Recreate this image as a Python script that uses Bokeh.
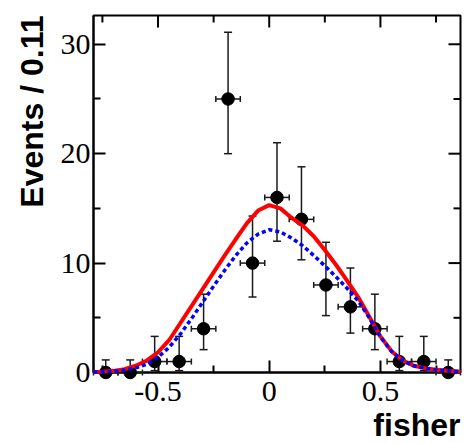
import numpy as np
from bokeh.plotting import figure
from bokeh.models import (Range1d, FixedTicker, LinearAxis, Title, ColumnDataSource)
from bokeh.embed import file_html
from bokeh.resources import INLINE

# ---- data ----
bin_centers = [-0.735, -0.625, -0.515, -0.405, -0.295, -0.185, -0.075, 0.035,
               0.145, 0.255, 0.365, 0.475, 0.585, 0.695, 0.805]
events = [0, 0, 1, 1, 4, 25, 10, 16, 14, 8, 6, 4, 1, 1, 0]
err_lower = [0, 0, 0.17, 0.17, 2.09, 20.0, 6.9, 12.0, 10.3, 5.2, 3.6, 2.09, 0.17, 0.17, 0]
err_upper = [1.15, 1.15, 3.3, 3.3, 7.16, 31.1, 14.3, 21.0, 18.8, 11.9, 9.55, 7.16, 3.3, 3.3, 1.15]
bin_half_width = 0.055

curve_x = [-0.79, -0.75, -0.70, -0.65, -0.60, -0.55, -0.50, -0.45, -0.40, -0.35,
           -0.30, -0.25, -0.20, -0.15, -0.10, -0.05, 0.00, 0.05, 0.10, 0.15,
           0.20, 0.25, 0.30, 0.35, 0.40, 0.45, 0.50, 0.55, 0.60, 0.65,
           0.70, 0.75, 0.80, 0.86]
total_fit = [0.05, 0.08, 0.15, 0.30, 0.62, 1.10, 1.85, 2.95, 4.5, 6.05,
             7.6, 9.15, 10.7, 12.2, 13.65, 14.8, 15.3, 15.0, 14.15, 13.45,
             12.45, 11.2, 9.85, 8.4, 6.9, 5.1, 3.3, 1.95, 1.1, 0.62,
             0.40, 0.25, 0.15, 0.08]
component = [0.04, 0.06, 0.12, 0.22, 0.42, 0.75, 1.4, 2.3, 3.5, 4.9,
             6.4, 7.9, 9.35, 10.7, 11.85, 12.65, 13.05, 12.85, 12.3, 11.6,
             10.7, 9.75, 8.75, 7.7, 6.55, 5.0, 3.25, 1.93, 1.08, 0.61,
             0.39, 0.24, 0.15, 0.08]

x_ticks = [-0.5, 0, 0.5]
x_tick_labels = ["-0.5", "0", "0.5"]
x_minor = [-0.75, -0.25, 0.25, 0.75]
y_ticks = [0, 10, 20, 30]
y_tick_labels = ["0", "10", "20", "30"]
y_minor = [5, 15, 25]

x_title = "fisher"
y_title = "Events / 0.11"

# ---- figure ----
W, H = 464, 443
L, R, T, B = 93, 4, 15, 71
X0, X1, Y0, Y1 = -0.79, 0.86, 0.0, 32.63
p = figure(width=W, height=H, output_backend="svg", toolbar_location=None,
           x_range=Range1d(X0, X1), y_range=Range1d(Y0, Y1),
           x_axis_type=None, y_axis_type=None,
           min_border_left=L, min_border_right=R, min_border_top=T, min_border_bottom=B)
p.grid.visible = False
p.background_fill_color = "white"
p.border_fill_color = "white"
p.outline_line_color = "black"
p.outline_line_width = 2

serif = "Liberation Serif"

def style_axis(ax):
    ax.axis_line_color = "black"
    ax.axis_line_width = 2
    ax.major_tick_in = 12
    ax.major_tick_out = 0
    ax.minor_tick_in = 7
    ax.minor_tick_out = 0
    ax.major_tick_line_width = 2
    ax.minor_tick_line_width = 2
    ax.major_tick_line_color = "black"
    ax.minor_tick_line_color = "black"
    ax.major_label_text_font = serif
    ax.major_label_text_font_size = "30px"
    ax.major_label_text_color = "black"

xb = LinearAxis(ticker=FixedTicker(ticks=x_ticks, minor_ticks=x_minor),
                major_label_overrides=dict(zip(x_ticks, x_tick_labels)))
style_axis(xb)
xb.major_label_standoff = 9
p.add_layout(xb, "below")

yl = LinearAxis(ticker=FixedTicker(ticks=y_ticks, minor_ticks=y_minor),
                major_label_overrides=dict(zip(y_ticks, y_tick_labels)))
style_axis(yl)
yl.major_label_standoff = 3
p.add_layout(yl, "left")

# ---- axis titles ----
xt = Title(text=x_title, align="right", text_font="Liberation Sans",
           text_font_style="bold", text_font_size="32px", text_color="black",
           standoff=2, offset=0)
p.add_layout(xt, "below")
yt = Title(text=y_title, align="right", text_font="Liberation Sans",
           text_font_style="bold", text_font_size="32px", text_color="black",
           standoff=16, offset=0)
p.add_layout(yt, "left")

# mirrored inward ticks on the top and right frame edges
frame_w = W - L - R
frame_h = H - T - B
px_x = (X1 - X0) / frame_w   # data units per pixel
px_y = (Y1 - Y0) / frame_h
maj_len, min_len = 12, 7
p.segment(x0=x_ticks, y0=[Y1] * len(x_ticks), x1=x_ticks,
          y1=[Y1 - maj_len * px_y] * len(x_ticks),
          line_color="black", line_width=2, level="overlay")
p.segment(x0=x_minor, y0=[Y1] * len(x_minor), x1=x_minor,
          y1=[Y1 - min_len * px_y] * len(x_minor),
          line_color="black", line_width=2, level="overlay")
p.segment(x0=[X1] * len(y_ticks), y0=y_ticks, x1=[X1 - maj_len * px_x] * len(y_ticks),
          y1=y_ticks, line_color="black", line_width=2, level="overlay")
p.segment(x0=[X1] * len(y_minor), y0=y_minor, x1=[X1 - min_len * px_x] * len(y_minor),
          y1=y_minor, line_color="black", line_width=2, level="overlay")

# ---- data points with error bars ----
xc = np.array(bin_centers)
src = ColumnDataSource(dict(
    x=xc, y=events, lo=err_lower, hi=err_upper,
    xl=xc - bin_half_width, xr=xc + bin_half_width,
))
bar_color = "#1a1a1a"
p.segment(x0="x", y0="lo", x1="x", y1="hi", source=src,
          line_color=bar_color, line_width=1.5, level="overlay")
p.segment(x0="xl", y0="y", x1="xr", y1="y", source=src,
          line_color=bar_color, line_width=1.5, level="overlay")
p.scatter(x="x", y="hi", source=src, marker="dash", size=8,
          line_color=bar_color, line_width=1.5, level="overlay")
p.scatter(x="x", y="lo", source=src, marker="dash", size=8,
          line_color=bar_color, line_width=1.5, level="overlay")
p.scatter(x="xl", y="y", source=src, marker="dash", size=6, angle=np.pi / 2,
          line_color=bar_color, line_width=1.5, level="overlay")
p.scatter(x="xr", y="y", source=src, marker="dash", size=6, angle=np.pi / 2,
          line_color=bar_color, line_width=1.5, level="overlay")
p.scatter(x="x", y="y", source=src, marker="circle", size=12.5,
          fill_color="black", line_color="black", level="overlay")

# ---- fit curves ----
p.line(curve_x, total_fit, line_color="#ff0000", line_width=4, level="overlay")
p.line(curve_x, component, line_color="#0000ff", line_width=3.5,
       line_dash="4 3", level="overlay")

open("out.html", "w").write(file_html(p, INLINE))
